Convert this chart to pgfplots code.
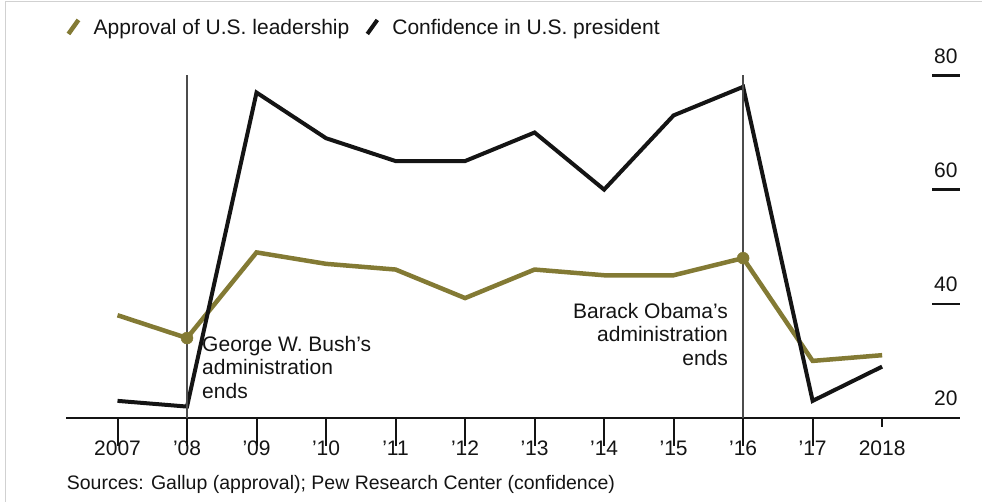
\documentclass[border=0pt]{standalone}
\usepackage{fontspec}
\setmainfont{Liberation Sans}
\usepackage{pgfplots}
\pgfplotsset{compat=1.18}
\definecolor{goldolive}{RGB}{131,122,52}
\definecolor{ink}{RGB}{20,20,20}
\newcommand\f{\fontsize{21pt}{23.5pt}\selectfont}
\begin{document}
\begin{tikzpicture}
\path[use as bounding box] (0,0) rectangle (982pt,502pt);
\draw[black!18, line width=1.2pt] (5.5pt,0) -- (5.5pt,500.8pt) -- (982pt,500.8pt);
\begin{axis}[
  at={(66pt,84pt)}, anchor=south west,
  scale only axis, width=894pt, height=354pt,
  xmin=2006.259, xmax=2019.12, ymin=20, ymax=82,
  clip=false,
  axis x line=bottom, axis y line=right,
  axis line style={-},
  x axis line style={line width=2.4pt, ink},
  y axis line style={draw=none},
  xtick={2007,2008,2009,2010,2011,2012,2013,2014,2015,2016,2017,2018},
  xticklabels={2007,’08,’09,’10,’11,’12,’13,’14,’15,’16,’17,2018},
  ytick={20,40,60,80},
  tick align=outside,
  major tick length=28pt,
  x tick style={line width=2pt, ink, shorten <=19pt},
  y tick style={line width=2.4pt, ink, xshift=-28pt},
  /pgf/number format/assume math mode=true,
  xticklabel style={font=\f, text=ink, inner sep=0pt, yshift=5pt},
  yticklabel style={font=\f, text=ink, inner sep=0pt, anchor=south, xshift=-42pt, yshift=12pt},
  legend style={at={(0,1)}, anchor=south west, draw=none, fill=none, font=\f,
    text=ink, inner sep=0pt, xshift=0pt, yshift=26pt,
    /tikz/every odd column/.append style={column sep=11pt},
    /tikz/every even column/.append style={column sep=14pt}},
  legend columns=2,
  legend cell align=left,
  legend image code/.code={\draw[#1, line cap=butt] (0pt,-6.5pt) -- (10pt,7.5pt);},
]
\addplot[goldolive, line width=4.5pt] coordinates {
  (2007,38) (2008,34) (2009,49) (2010,47) (2011,46) (2012,41)
  (2013,46) (2014,45) (2015,45) (2016,48) (2017,30) (2018,31)};
\addlegendentry{Approval of U.S. leadership}
\addplot[ink, line width=4pt] coordinates {
  (2007,23) (2008,22) (2009,77) (2010,69) (2011,65) (2012,65)
  (2013,70) (2014,60) (2015,73) (2016,78) (2017,23) (2018,29)};
\addlegendentry{Confidence in U.S. president}
\addplot[forget plot, only marks, mark=*, mark size=6pt, goldolive] coordinates {(2008,34) (2016,48)};
\addplot[forget plot, black!70, line width=1.6pt] coordinates {(2008,20) (2008,80.1)};
\addplot[forget plot, black!70, line width=1.6pt] coordinates {(2016,20) (2016,80.1)};
\node[font=\f, text=ink, align=left, anchor=north west, inner sep=0pt] at (axis cs:2008.216,34.36)
  {George W. Bush’s\\administration\\ends};
\node[font=\f, text=ink, align=right, anchor=north east, inner sep=0pt] at (axis cs:2015.784,40.14)
  {Barack Obama’s\\administration\\ends};
\end{axis}
\node[font=\fontsize{19.5pt}{22pt}\selectfont, text=ink, anchor=base west, inner sep=0pt] at (66.7pt,12pt)
  {Sources: Gallup (approval); Pew Research Center (confidence)};
\end{tikzpicture}
\end{document}
